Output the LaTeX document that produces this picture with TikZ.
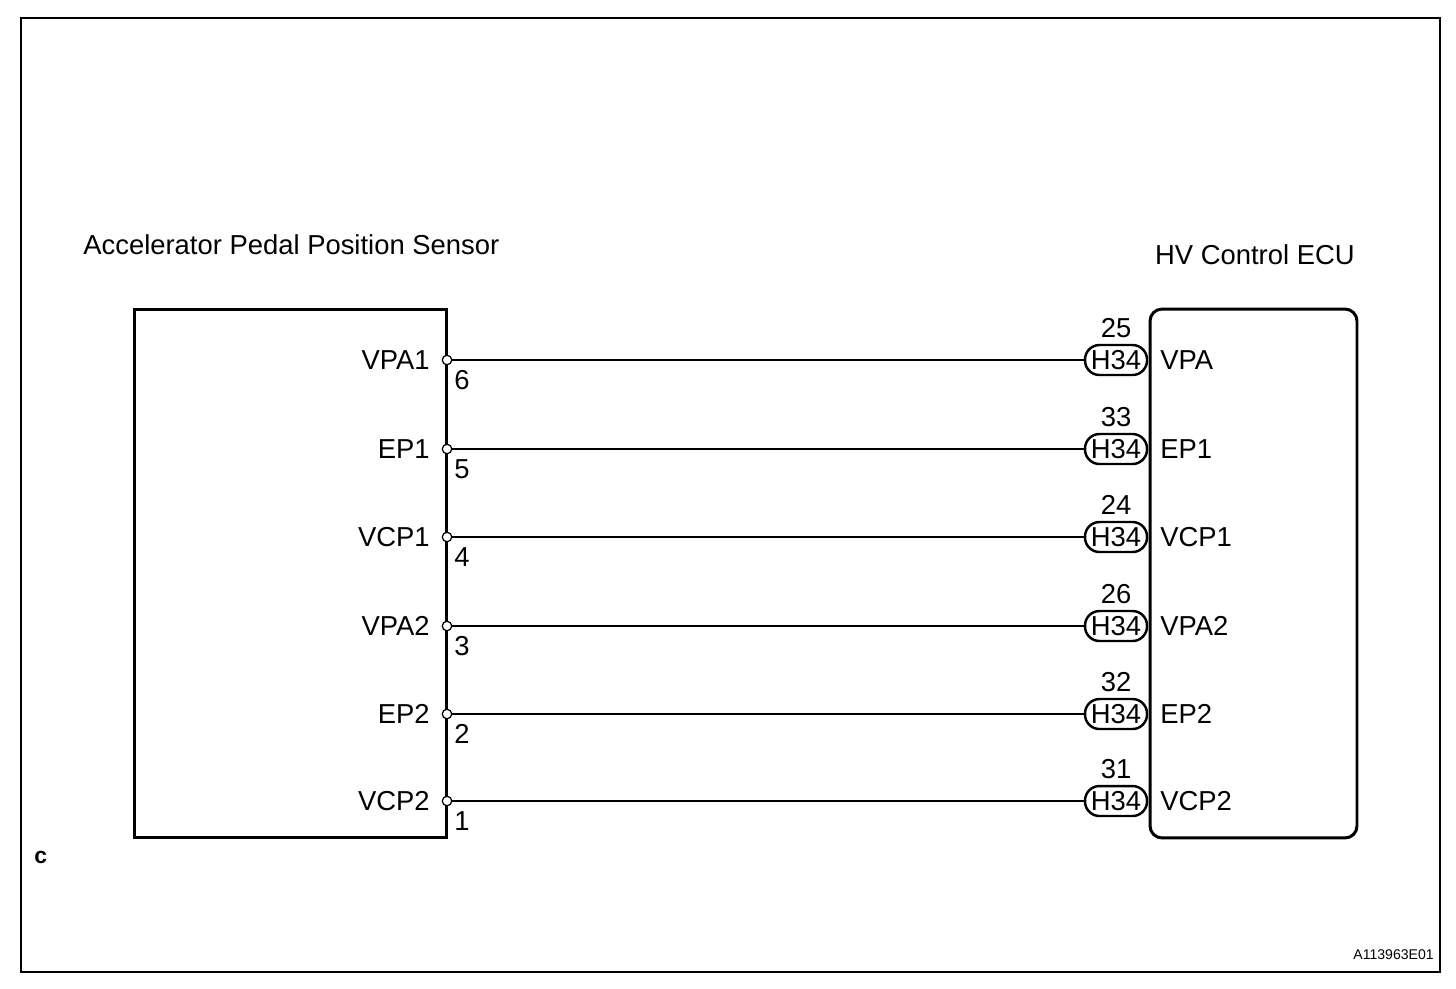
\documentclass[tikz,border=0pt]{standalone}
\usepackage{fontspec}
\setmainfont{Liberation Sans}
\usepackage{tikz}
\usetikzlibrary{calc}
\tikzset{
	unitbox/.style={draw, line width=1.7pt, inner sep=0pt},
	terminal/.style={circle, draw, fill=white, line width=0.7pt, inner sep=0pt, minimum size=0.19cm},
	cavity/.style={draw, line width=1.4pt, rounded corners=0.29cm, minimum width=1.24cm, minimum height=0.6cm, inner sep=0pt},
	wire/.style={line width=0.85pt},
	lbl/.style={inner sep=0pt, font=\fontsize{15.6}{18}\selectfont}
}

\begin{document}
\begin{tikzpicture}[x=0.02cm, y=-0.02cm]
			%%%%% START %%%%%
			\useasboundingbox (0, 0) rectangle (1456, 988);
			
			\draw[line width=0.6pt] (21, 18) rectangle (1440, 972);
			\draw[line width=1.6pt] (21, 18) -- (21, 972) -- (1440, 972) -- (1440, 18);
			
			\node[lbl, anchor=west] (sensorname) at (83, 245) {Accelerator Pedal Position Sensor};
			\node[lbl, anchor=east] (ecuname) at (1355, 255) {HV Control ECU};
			
			\node[unitbox, minimum width=6.26cm, minimum height=10.58cm] (sensor) at (290.5, 573.5) {};
			\node[unitbox, rounded corners=0.24cm, minimum width=4.14cm, minimum height=10.58cm] (ecu) at (1253.5, 573.5) {};
			
			\foreach \y/\sname/\pin/\ename/\cav [count=\i] in {360/VPA1/6/VPA/25, 449/EP1/5/EP1/33, 537/VCP1/4/VCP1/24, 626/VPA2/3/VPA2/26, 714/EP2/2/EP2/32, 801/VCP2/1/VCP2/31}{
				\node[terminal] (s\i) at (447, \y) {};
				\node[lbl, anchor=east] (sl\i) at (430, \y) {\sname};
				\node[lbl, anchor=north west] (sp\i) at (454, \y + 10) {\pin};
				\node[cavity] (h\i) at (1116, \y) {\fontsize{15.6}{18}\selectfont H34};
				\node[lbl, anchor=south] (hn\i) at (1116, \y - 22) {\cav};
				\node[lbl, anchor=west] (el\i) at (1160, \y) {\ename};
				\draw[wire] (s\i) -- (h\i);
			}
			
			\node[inner sep=0pt, anchor=west, font=\fontsize{13}{15}\selectfont\bfseries] (corner) at (34, 857) {c};
			\node[inner sep=0pt, anchor=east, font=\fontsize{8}{9}\selectfont] (figno) at (1434, 955) {A113963E01};
			%%%%% END %%%%%
\end{tikzpicture}
\end{document}
